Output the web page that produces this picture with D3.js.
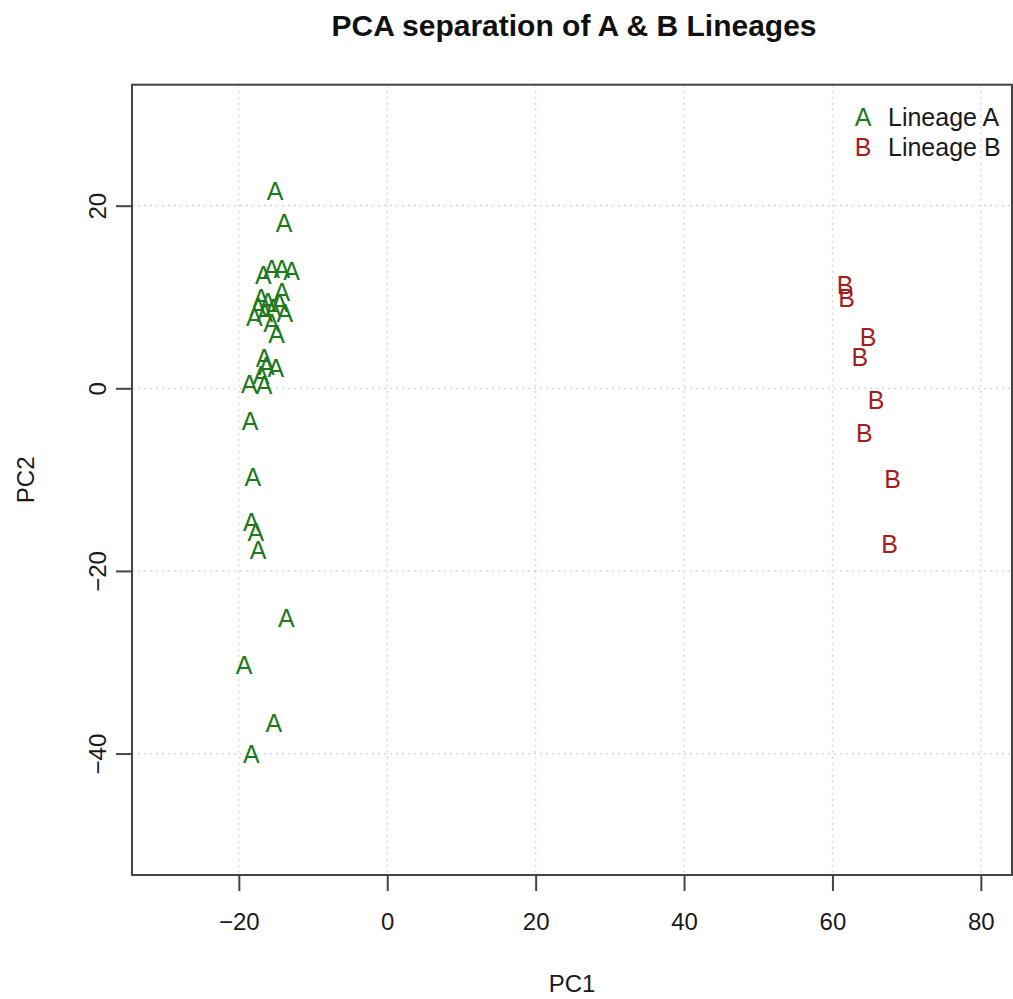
<!DOCTYPE html>
<html>
<head>
<meta charset="utf-8">
<script src="https://cdn.jsdelivr.net/npm/d3@7"></script>
<style>
  html, body { margin: 0; padding: 0; background: #fff; }
  svg text { font-family: "Liberation Sans", Arial, Helvetica, sans-serif; }
</style>
</head>
<body>
<svg id="chart" width="1013" height="999"></svg>
<script>
// PCA scores, one letter per sample
const pc1A = [-15.1, -13.9, -16.7, -15.6, -14.2, -12.9, -14.2, -17.0, -16.1, -14.5, -17.4,
              -15.4, -13.8, -17.9, -16.5, -15.6, -14.9, -16.6, -16.3, -15.0, -17.0, -18.6,
              -16.6, -18.5, -18.1, -18.3, -17.7, -17.4, -13.6, -19.3, -15.3, -18.3];
const pc2A = [21.6, 18.1, 12.4, 13.1, 13.1, 12.9, 10.6, 9.85, 9.5, 9.3, 8.9,
              8.75, 8.2, 7.8, 8.2, 7.1, 6.0, 3.3, 2.4, 2.2, 1.45, 0.5,
              0.35, -3.6, -9.7, -14.6, -15.7, -17.7, -25.2, -30.3, -36.7, -40.0];
const pc1B = [61.7, 61.9, 64.8, 63.7, 65.9, 64.3, 68.1, 67.7];
const pc2B = [11.3, 9.85, 5.6, 3.45, -1.3, -4.9, -9.9, -17.0];

const xTicks = [-20, 0, 20, 40, 60, 80];
const yTicks = [-40, -20, 0, 20];

const lineageLabels = ["Lineage A", "Lineage B"];
const lineageSymbols = ["A", "B"];
const lineageColors = ["#1b7a1b", "#a31d1d"];

const svg = d3.select("#chart");
const plotL = 132, plotR = 1012, plotT = 84.7, plotB = 875;

const x = d3.scaleLinear().domain([-34.4, 84.2]).range([plotL, plotR]);
const y = d3.scaleLinear().domain([-53.3, 33.25]).range([plotB, plotT]);

// dotted grid at the tick positions
const grid = svg.append("g").attr("stroke", "#d3d3d3").attr("stroke-width", 1.3)
  .attr("stroke-dasharray", "2,4");
grid.selectAll("line.gx").data(xTicks).join("line")
  .attr("x1", d => x(d)).attr("x2", d => x(d)).attr("y1", plotT).attr("y2", plotB);
grid.selectAll("line.gy").data(yTicks).join("line")
  .attr("x1", plotL).attr("x2", plotR).attr("y1", d => y(d)).attr("y2", d => y(d));

// axes
const fmt = d => (d < 0 ? "\u2212" + Math.abs(d) : String(d));
const xAxis = svg.append("g").attr("transform", `translate(0,${plotB})`)
  .call(d3.axisBottom(x).tickValues(xTicks).tickSize(16).tickPadding(22).tickFormat(fmt));
xAxis.select(".domain").remove();
xAxis.selectAll("line").attr("stroke", "#444").attr("stroke-width", 2);
xAxis.selectAll("text").attr("font-size", 24).attr("fill", "#1a1a1a")
  .attr("font-family", "Liberation Sans, Arial, sans-serif");

const yAxis = svg.append("g").attr("transform", `translate(${plotL},0)`)
  .call(d3.axisLeft(y).tickValues(yTicks).tickSize(16).tickFormat(fmt));
yAxis.select(".domain").remove();
yAxis.selectAll("line").attr("stroke", "#444").attr("stroke-width", 2);
yAxis.selectAll("text")
  .attr("font-size", 24).attr("fill", "#1a1a1a")
  .attr("font-family", "Liberation Sans, Arial, sans-serif")
  .attr("x", null).attr("dy", null)
  .attr("text-anchor", "middle")
  .attr("transform", "translate(-26,0) rotate(-90)");

// plot frame
svg.append("rect").attr("x", plotL).attr("y", plotT)
  .attr("width", plotR - plotL).attr("height", plotB - plotT)
  .attr("fill", "none").attr("stroke", "#444").attr("stroke-width", 2);

// sample letters
const pts = [
  ...pc1A.map((v, i) => ({ px: v, py: pc2A[i], g: 0 })),
  ...pc1B.map((v, i) => ({ px: v, py: pc2B[i], g: 1 }))
];
svg.append("g").selectAll("text").data(pts).join("text")
  .attr("x", d => x(d.px)).attr("y", d => y(d.py))
  .attr("dy", "0.36em")
  .attr("text-anchor", "middle")
  .attr("font-size", 25)
  .attr("fill", d => lineageColors[d.g])
  .text(d => lineageSymbols[d.g]);

// legend
const leg = svg.append("g");
lineageLabels.forEach((lab, i) => {
  const cy = 117 + i * 30;
  leg.append("text").attr("x", 863).attr("y", cy).attr("dy", "0.36em")
    .attr("text-anchor", "middle").attr("font-size", 25)
    .attr("fill", lineageColors[i]).text(lineageSymbols[i]);
  leg.append("text").attr("x", 888).attr("y", cy).attr("dy", "0.36em")
    .attr("font-size", 25).attr("fill", "#1a1a1a").text(lab);
});

// titles
svg.append("text").attr("x", (plotL + plotR) / 2 + 2).attr("y", 36)
  .attr("text-anchor", "middle").attr("font-size", 30).attr("font-weight", "bold")
  .attr("fill", "#111").text("PCA separation of A & B Lineages");
svg.append("text").attr("x", (plotL + plotR) / 2).attr("y", 992)
  .attr("text-anchor", "middle").attr("font-size", 24).attr("fill", "#1a1a1a").text("PC1");
svg.append("text").attr("transform", `translate(34,${(plotT + plotB) / 2}) rotate(-90)`)
  .attr("text-anchor", "middle").attr("font-size", 24).attr("fill", "#1a1a1a").text("PC2");
</script>
</body>
</html>
